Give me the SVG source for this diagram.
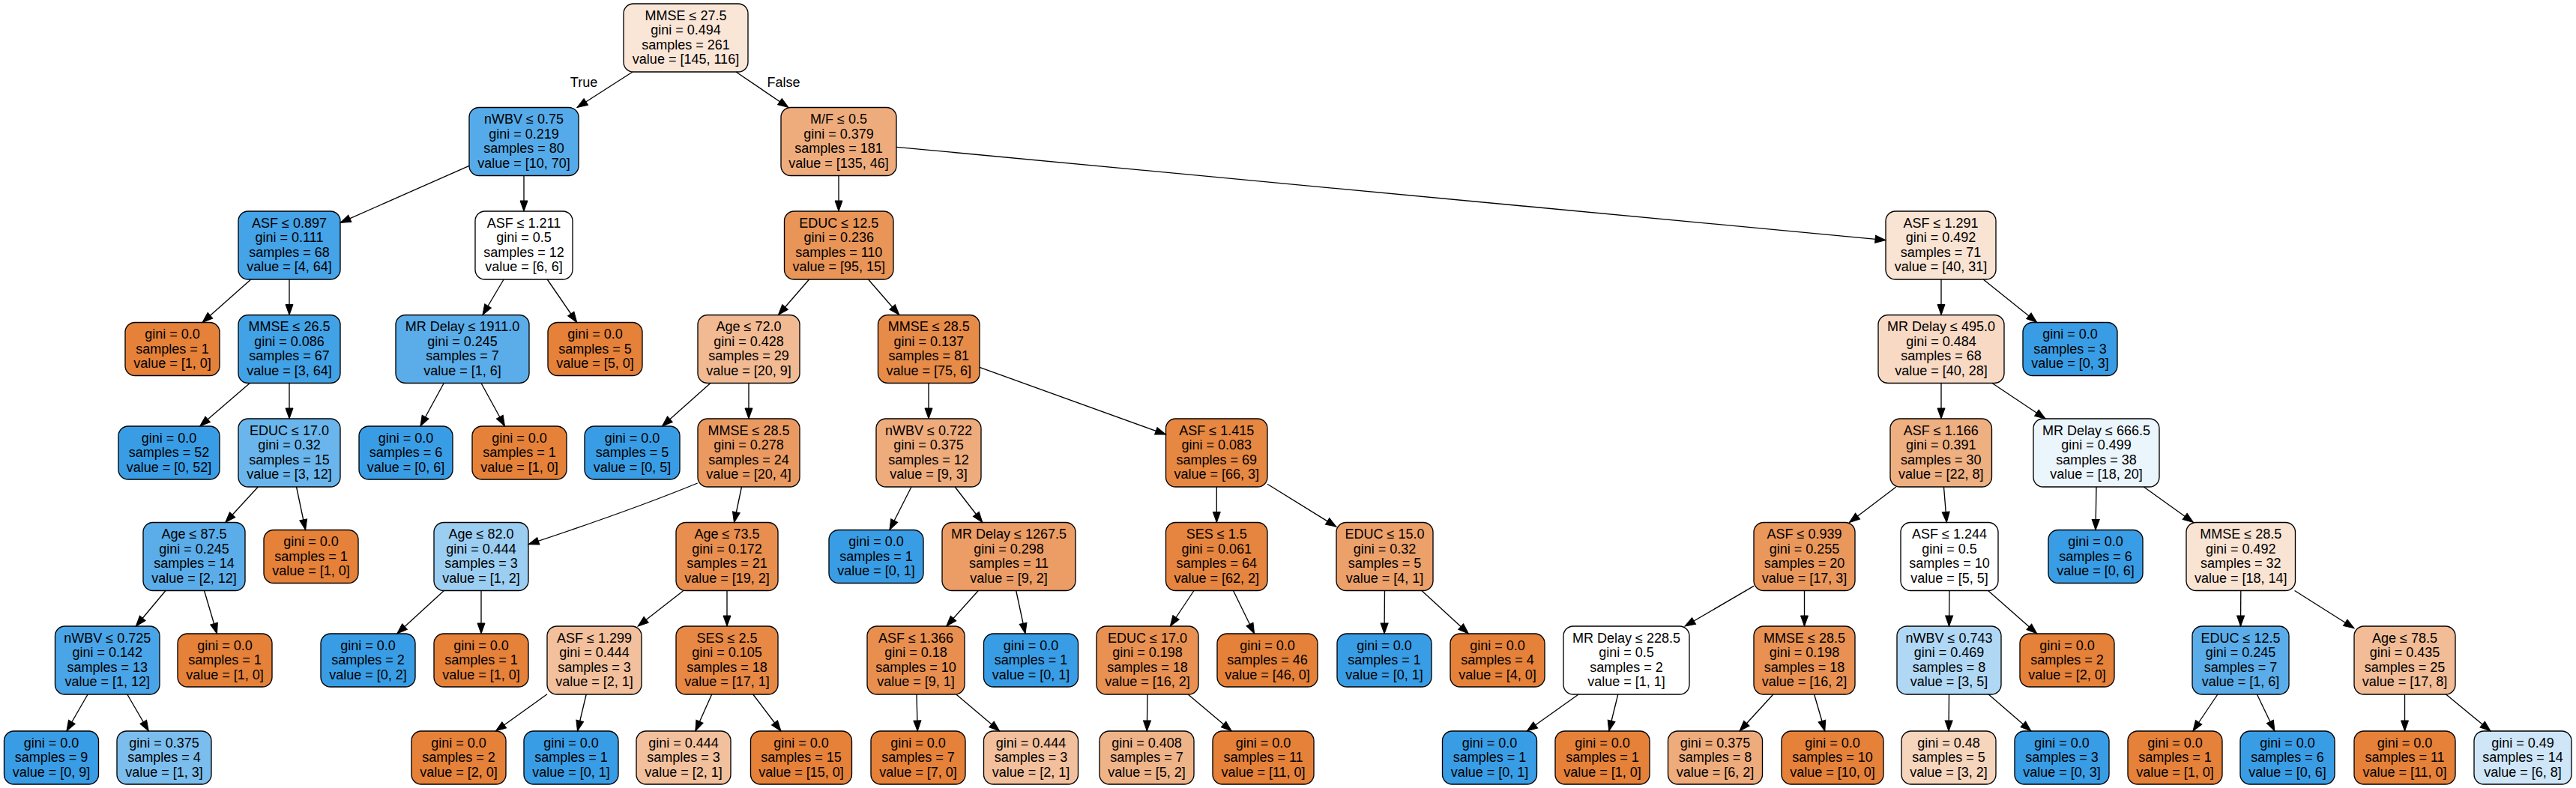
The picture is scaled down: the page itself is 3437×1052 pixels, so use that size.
<svg xmlns="http://www.w3.org/2000/svg" width="3437" height="1052" viewBox="0 0 3437 1052">
<style>
text{font-family:"Liberation Sans",Arial,Helvetica,sans-serif;font-size:18px;text-anchor:middle;fill:#000}
.nd rect{stroke:#000;stroke-width:1.33}
.i rect{height:91px}
.l rect{height:71px}
.o rect{fill:#e58139}
.b rect{fill:#399de5}
#edges line,#edges path{stroke:#000;stroke-width:1.33;fill:none;marker-end:url(#arr)}
</style>
<defs>
<marker id="arr" markerUnits="userSpaceOnUse" markerWidth="16" markerHeight="12" refX="14" refY="5" orient="auto" overflow="visible"><path d="M0,0L14,5L0,10z" fill="#000" stroke="#000" stroke-width="1"/></marker>
</defs>
<rect width="3437" height="1052" fill="#fff"/>
<g id="nodes">
<g id="n0" class="nd i"><rect x="832" y="5" width="166" height="91" rx="13" fill="#fae6d7"/><text x="915" y="26.75"><tspan x="915">MMSE ≤ 27.5</tspan><tspan x="915" dy="19.5">gini = 0.494</tspan><tspan x="915" dy="19.5">samples = 261</tspan><tspan x="915" dy="19.5">value = [145, 116]</tspan></text></g>
<g id="n1" class="nd i"><rect x="626" y="143.5" width="146" height="91" rx="13" fill="#55abe9"/><text x="699" y="165.25"><tspan x="699">nWBV ≤ 0.75</tspan><tspan x="699" dy="19.5">gini = 0.219</tspan><tspan x="699" dy="19.5">samples = 80</tspan><tspan x="699" dy="19.5">value = [10, 70]</tspan></text></g>
<g id="n2" class="nd i"><rect x="1042" y="143.5" width="154" height="91" rx="13" fill="#eeac7c"/><text x="1119" y="165.25"><tspan x="1119">M/F ≤ 0.5</tspan><tspan x="1119" dy="19.5">gini = 0.379</tspan><tspan x="1119" dy="19.5">samples = 181</tspan><tspan x="1119" dy="19.5">value = [135, 46]</tspan></text></g>
<g id="n3" class="nd i"><rect x="318" y="282" width="136" height="91" rx="13" fill="#45a3e7"/><text x="386" y="303.75"><tspan x="386">ASF ≤ 0.897</tspan><tspan x="386" dy="19.5">gini = 0.111</tspan><tspan x="386" dy="19.5">samples = 68</tspan><tspan x="386" dy="19.5">value = [4, 64]</tspan></text></g>
<g id="n4" class="nd i"><rect x="634" y="282" width="130" height="91" rx="13" fill="#ffffff"/><text x="699" y="303.75"><tspan x="699">ASF ≤ 1.211</tspan><tspan x="699" dy="19.5">gini = 0.5</tspan><tspan x="699" dy="19.5">samples = 12</tspan><tspan x="699" dy="19.5">value = [6, 6]</tspan></text></g>
<g id="n5" class="nd i"><rect x="1046.5" y="282" width="145.5" height="91" rx="13" fill="#e99558"/><text x="1119.25" y="303.75"><tspan x="1119.25">EDUC ≤ 12.5</tspan><tspan x="1119.25" dy="19.5">gini = 0.236</tspan><tspan x="1119.25" dy="19.5">samples = 110</tspan><tspan x="1119.25" dy="19.5">value = [95, 15]</tspan></text></g>
<g id="n6" class="nd i"><rect x="2516" y="282" width="147" height="91" rx="13" fill="#f9e3d2"/><text x="2589.5" y="303.75"><tspan x="2589.5">ASF ≤ 1.291</tspan><tspan x="2589.5" dy="19.5">gini = 0.492</tspan><tspan x="2589.5" dy="19.5">samples = 71</tspan><tspan x="2589.5" dy="19.5">value = [40, 31]</tspan></text></g>
<g id="n7" class="nd l o"><rect x="167" y="430.5" width="126" height="71" rx="13"/><text x="230" y="452"><tspan x="230">gini = 0.0</tspan><tspan x="230" dy="19.5">samples = 1</tspan><tspan x="230" dy="19.5">value = [1, 0]</tspan></text></g>
<g id="n8" class="nd i"><rect x="318" y="420.5" width="136" height="91" rx="13" fill="#42a2e6"/><text x="386" y="442.25"><tspan x="386">MMSE ≤ 26.5</tspan><tspan x="386" dy="19.5">gini = 0.086</tspan><tspan x="386" dy="19.5">samples = 67</tspan><tspan x="386" dy="19.5">value = [3, 64]</tspan></text></g>
<g id="n9" class="nd i"><rect x="528" y="420.5" width="178" height="91" rx="13" fill="#5aade9"/><text x="617" y="442.25"><tspan x="617">MR Delay ≤ 1911.0</tspan><tspan x="617" dy="19.5">gini = 0.245</tspan><tspan x="617" dy="19.5">samples = 7</tspan><tspan x="617" dy="19.5">value = [1, 6]</tspan></text></g>
<g id="n10" class="nd l o"><rect x="731" y="430.5" width="126" height="71" rx="13"/><text x="794" y="452"><tspan x="794">gini = 0.0</tspan><tspan x="794" dy="19.5">samples = 5</tspan><tspan x="794" dy="19.5">value = [5, 0]</tspan></text></g>
<g id="n11" class="nd i"><rect x="931" y="420.5" width="136" height="91" rx="13" fill="#f1ba92"/><text x="999" y="442.25"><tspan x="999">Age ≤ 72.0</tspan><tspan x="999" dy="19.5">gini = 0.428</tspan><tspan x="999" dy="19.5">samples = 29</tspan><tspan x="999" dy="19.5">value = [20, 9]</tspan></text></g>
<g id="n12" class="nd i"><rect x="1171.5" y="420.5" width="135.5" height="91" rx="13" fill="#e78b49"/><text x="1239.25" y="442.25"><tspan x="1239.25">MMSE ≤ 28.5</tspan><tspan x="1239.25" dy="19.5">gini = 0.137</tspan><tspan x="1239.25" dy="19.5">samples = 81</tspan><tspan x="1239.25" dy="19.5">value = [75, 6]</tspan></text></g>
<g id="n13" class="nd i"><rect x="2506" y="420.5" width="168" height="91" rx="13" fill="#f7d9c4"/><text x="2590" y="442.25"><tspan x="2590">MR Delay ≤ 495.0</tspan><tspan x="2590" dy="19.5">gini = 0.484</tspan><tspan x="2590" dy="19.5">samples = 68</tspan><tspan x="2590" dy="19.5">value = [40, 28]</tspan></text></g>
<g id="n14" class="nd l b"><rect x="2699" y="430.5" width="126" height="71" rx="13"/><text x="2762" y="452"><tspan x="2762">gini = 0.0</tspan><tspan x="2762" dy="19.5">samples = 3</tspan><tspan x="2762" dy="19.5">value = [0, 3]</tspan></text></g>
<g id="n15" class="nd l b"><rect x="158" y="569" width="135" height="71" rx="13"/><text x="225.5" y="590.5"><tspan x="225.5">gini = 0.0</tspan><tspan x="225.5" dy="19.5">samples = 52</tspan><tspan x="225.5" dy="19.5">value = [0, 52]</tspan></text></g>
<g id="n16" class="nd i"><rect x="318" y="559" width="136" height="91" rx="13" fill="#6ab6ec"/><text x="386" y="580.75"><tspan x="386">EDUC ≤ 17.0</tspan><tspan x="386" dy="19.5">gini = 0.32</tspan><tspan x="386" dy="19.5">samples = 15</tspan><tspan x="386" dy="19.5">value = [3, 12]</tspan></text></g>
<g id="n17" class="nd l b"><rect x="479" y="569" width="125" height="71" rx="13"/><text x="541.5" y="590.5"><tspan x="541.5">gini = 0.0</tspan><tspan x="541.5" dy="19.5">samples = 6</tspan><tspan x="541.5" dy="19.5">value = [0, 6]</tspan></text></g>
<g id="n18" class="nd l o"><rect x="630" y="569" width="126" height="71" rx="13"/><text x="693" y="590.5"><tspan x="693">gini = 0.0</tspan><tspan x="693" dy="19.5">samples = 1</tspan><tspan x="693" dy="19.5">value = [1, 0]</tspan></text></g>
<g id="n19" class="nd l b"><rect x="780" y="569" width="127" height="71" rx="13"/><text x="843.5" y="590.5"><tspan x="843.5">gini = 0.0</tspan><tspan x="843.5" dy="19.5">samples = 5</tspan><tspan x="843.5" dy="19.5">value = [0, 5]</tspan></text></g>
<g id="n20" class="nd i"><rect x="931" y="559" width="136" height="91" rx="13" fill="#ea9a61"/><text x="999" y="580.75"><tspan x="999">MMSE ≤ 28.5</tspan><tspan x="999" dy="19.5">gini = 0.278</tspan><tspan x="999" dy="19.5">samples = 24</tspan><tspan x="999" dy="19.5">value = [20, 4]</tspan></text></g>
<g id="n21" class="nd i"><rect x="1169" y="559" width="140" height="91" rx="13" fill="#eeab7b"/><text x="1239" y="580.75"><tspan x="1239">nWBV ≤ 0.722</tspan><tspan x="1239" dy="19.5">gini = 0.375</tspan><tspan x="1239" dy="19.5">samples = 12</tspan><tspan x="1239" dy="19.5">value = [9, 3]</tspan></text></g>
<g id="n22" class="nd i"><rect x="1555.5" y="559" width="135.5" height="91" rx="13" fill="#e68742"/><text x="1623.25" y="580.75"><tspan x="1623.25">ASF ≤ 1.415</tspan><tspan x="1623.25" dy="19.5">gini = 0.083</tspan><tspan x="1623.25" dy="19.5">samples = 69</tspan><tspan x="1623.25" dy="19.5">value = [66, 3]</tspan></text></g>
<g id="n23" class="nd i"><rect x="2522" y="559" width="135.5" height="91" rx="13" fill="#eeaf81"/><text x="2589.75" y="580.75"><tspan x="2589.75">ASF ≤ 1.166</tspan><tspan x="2589.75" dy="19.5">gini = 0.391</tspan><tspan x="2589.75" dy="19.5">samples = 30</tspan><tspan x="2589.75" dy="19.5">value = [22, 8]</tspan></text></g>
<g id="n24" class="nd i"><rect x="2713" y="559" width="168" height="91" rx="13" fill="#ebf5fc"/><text x="2797" y="580.75"><tspan x="2797">MR Delay ≤ 666.5</tspan><tspan x="2797" dy="19.5">gini = 0.499</tspan><tspan x="2797" dy="19.5">samples = 38</tspan><tspan x="2797" dy="19.5">value = [18, 20]</tspan></text></g>
<g id="n25" class="nd i"><rect x="191" y="697.5" width="136" height="91" rx="13" fill="#5aade9"/><text x="259" y="719.25"><tspan x="259">Age ≤ 87.5</tspan><tspan x="259" dy="19.5">gini = 0.245</tspan><tspan x="259" dy="19.5">samples = 14</tspan><tspan x="259" dy="19.5">value = [2, 12]</tspan></text></g>
<g id="n26" class="nd l o"><rect x="352" y="707.5" width="126" height="71" rx="13"/><text x="415" y="729"><tspan x="415">gini = 0.0</tspan><tspan x="415" dy="19.5">samples = 1</tspan><tspan x="415" dy="19.5">value = [1, 0]</tspan></text></g>
<g id="n27" class="nd i"><rect x="579" y="697.5" width="126" height="91" rx="13" fill="#9ccef2"/><text x="642" y="719.25"><tspan x="642">Age ≤ 82.0</tspan><tspan x="642" dy="19.5">gini = 0.444</tspan><tspan x="642" dy="19.5">samples = 3</tspan><tspan x="642" dy="19.5">value = [1, 2]</tspan></text></g>
<g id="n28" class="nd i"><rect x="902" y="697.5" width="136" height="91" rx="13" fill="#e88e4e"/><text x="970" y="719.25"><tspan x="970">Age ≤ 73.5</tspan><tspan x="970" dy="19.5">gini = 0.172</tspan><tspan x="970" dy="19.5">samples = 21</tspan><tspan x="970" dy="19.5">value = [19, 2]</tspan></text></g>
<g id="n29" class="nd l b"><rect x="1106" y="707.5" width="126" height="71" rx="13"/><text x="1169" y="729"><tspan x="1169">gini = 0.0</tspan><tspan x="1169" dy="19.5">samples = 1</tspan><tspan x="1169" dy="19.5">value = [0, 1]</tspan></text></g>
<g id="n30" class="nd i"><rect x="1257" y="697.5" width="178" height="91" rx="13" fill="#eb9d65"/><text x="1346" y="719.25"><tspan x="1346">MR Delay ≤ 1267.5</tspan><tspan x="1346" dy="19.5">gini = 0.298</tspan><tspan x="1346" dy="19.5">samples = 11</tspan><tspan x="1346" dy="19.5">value = [9, 2]</tspan></text></g>
<g id="n31" class="nd i"><rect x="1555.5" y="697.5" width="135.5" height="91" rx="13" fill="#e6853f"/><text x="1623.25" y="719.25"><tspan x="1623.25">SES ≤ 1.5</tspan><tspan x="1623.25" dy="19.5">gini = 0.061</tspan><tspan x="1623.25" dy="19.5">samples = 64</tspan><tspan x="1623.25" dy="19.5">value = [62, 2]</tspan></text></g>
<g id="n32" class="nd i"><rect x="1783" y="697.5" width="129" height="91" rx="13" fill="#eca06a"/><text x="1847.5" y="719.25"><tspan x="1847.5">EDUC ≤ 15.0</tspan><tspan x="1847.5" dy="19.5">gini = 0.32</tspan><tspan x="1847.5" dy="19.5">samples = 5</tspan><tspan x="1847.5" dy="19.5">value = [4, 1]</tspan></text></g>
<g id="n33" class="nd i"><rect x="2340" y="697.5" width="135" height="91" rx="13" fill="#ea975c"/><text x="2407.5" y="719.25"><tspan x="2407.5">ASF ≤ 0.939</tspan><tspan x="2407.5" dy="19.5">gini = 0.255</tspan><tspan x="2407.5" dy="19.5">samples = 20</tspan><tspan x="2407.5" dy="19.5">value = [17, 3]</tspan></text></g>
<g id="n34" class="nd i"><rect x="2536" y="697.5" width="130" height="91" rx="13" fill="#ffffff"/><text x="2601" y="719.25"><tspan x="2601">ASF ≤ 1.244</tspan><tspan x="2601" dy="19.5">gini = 0.5</tspan><tspan x="2601" dy="19.5">samples = 10</tspan><tspan x="2601" dy="19.5">value = [5, 5]</tspan></text></g>
<g id="n35" class="nd l b"><rect x="2733" y="707.5" width="126" height="71" rx="13"/><text x="2796" y="729"><tspan x="2796">gini = 0.0</tspan><tspan x="2796" dy="19.5">samples = 6</tspan><tspan x="2796" dy="19.5">value = [0, 6]</tspan></text></g>
<g id="n36" class="nd i"><rect x="2917" y="697.5" width="145.5" height="91" rx="13" fill="#f9e3d3"/><text x="2989.75" y="719.25"><tspan x="2989.75">MMSE ≤ 28.5</tspan><tspan x="2989.75" dy="19.5">gini = 0.492</tspan><tspan x="2989.75" dy="19.5">samples = 32</tspan><tspan x="2989.75" dy="19.5">value = [18, 14]</tspan></text></g>
<g id="n37" class="nd i"><rect x="73.5" y="836" width="139.5" height="91" rx="13" fill="#49a5e7"/><text x="143.25" y="857.75"><tspan x="143.25">nWBV ≤ 0.725</tspan><tspan x="143.25" dy="19.5">gini = 0.142</tspan><tspan x="143.25" dy="19.5">samples = 13</tspan><tspan x="143.25" dy="19.5">value = [1, 12]</tspan></text></g>
<g id="n38" class="nd l o"><rect x="237" y="846" width="126" height="71" rx="13"/><text x="300" y="867.5"><tspan x="300">gini = 0.0</tspan><tspan x="300" dy="19.5">samples = 1</tspan><tspan x="300" dy="19.5">value = [1, 0]</tspan></text></g>
<g id="n39" class="nd l b"><rect x="428" y="846" width="126" height="71" rx="13"/><text x="491" y="867.5"><tspan x="491">gini = 0.0</tspan><tspan x="491" dy="19.5">samples = 2</tspan><tspan x="491" dy="19.5">value = [0, 2]</tspan></text></g>
<g id="n40" class="nd l o"><rect x="579" y="846" width="126" height="71" rx="13"/><text x="642" y="867.5"><tspan x="642">gini = 0.0</tspan><tspan x="642" dy="19.5">samples = 1</tspan><tspan x="642" dy="19.5">value = [1, 0]</tspan></text></g>
<g id="n41" class="nd i"><rect x="730" y="836" width="126" height="91" rx="13" fill="#f2c09c"/><text x="793" y="857.75"><tspan x="793">ASF ≤ 1.299</tspan><tspan x="793" dy="19.5">gini = 0.444</tspan><tspan x="793" dy="19.5">samples = 3</tspan><tspan x="793" dy="19.5">value = [2, 1]</tspan></text></g>
<g id="n42" class="nd i"><rect x="902" y="836" width="136" height="91" rx="13" fill="#e78845"/><text x="970" y="857.75"><tspan x="970">SES ≤ 2.5</tspan><tspan x="970" dy="19.5">gini = 0.105</tspan><tspan x="970" dy="19.5">samples = 18</tspan><tspan x="970" dy="19.5">value = [17, 1]</tspan></text></g>
<g id="n43" class="nd i"><rect x="1157" y="836" width="130" height="91" rx="13" fill="#e88f4f"/><text x="1222" y="857.75"><tspan x="1222">ASF ≤ 1.366</tspan><tspan x="1222" dy="19.5">gini = 0.18</tspan><tspan x="1222" dy="19.5">samples = 10</tspan><tspan x="1222" dy="19.5">value = [9, 1]</tspan></text></g>
<g id="n44" class="nd l b"><rect x="1312.5" y="846" width="126" height="71" rx="13"/><text x="1375.5" y="867.5"><tspan x="1375.5">gini = 0.0</tspan><tspan x="1375.5" dy="19.5">samples = 1</tspan><tspan x="1375.5" dy="19.5">value = [0, 1]</tspan></text></g>
<g id="n45" class="nd i"><rect x="1463" y="836" width="136" height="91" rx="13" fill="#e89152"/><text x="1531" y="857.75"><tspan x="1531">EDUC ≤ 17.0</tspan><tspan x="1531" dy="19.5">gini = 0.198</tspan><tspan x="1531" dy="19.5">samples = 18</tspan><tspan x="1531" dy="19.5">value = [16, 2]</tspan></text></g>
<g id="n46" class="nd l o"><rect x="1624" y="846" width="134" height="71" rx="13"/><text x="1691" y="867.5"><tspan x="1691">gini = 0.0</tspan><tspan x="1691" dy="19.5">samples = 46</tspan><tspan x="1691" dy="19.5">value = [46, 0]</tspan></text></g>
<g id="n47" class="nd l b"><rect x="1784" y="846" width="126" height="71" rx="13"/><text x="1847" y="867.5"><tspan x="1847">gini = 0.0</tspan><tspan x="1847" dy="19.5">samples = 1</tspan><tspan x="1847" dy="19.5">value = [0, 1]</tspan></text></g>
<g id="n48" class="nd l o"><rect x="1935" y="846" width="126" height="71" rx="13"/><text x="1998" y="867.5"><tspan x="1998">gini = 0.0</tspan><tspan x="1998" dy="19.5">samples = 4</tspan><tspan x="1998" dy="19.5">value = [4, 0]</tspan></text></g>
<g id="n49" class="nd i"><rect x="2086" y="836" width="168" height="91" rx="13" fill="#ffffff"/><text x="2170" y="857.75"><tspan x="2170">MR Delay ≤ 228.5</tspan><tspan x="2170" dy="19.5">gini = 0.5</tspan><tspan x="2170" dy="19.5">samples = 2</tspan><tspan x="2170" dy="19.5">value = [1, 1]</tspan></text></g>
<g id="n50" class="nd i"><rect x="2340" y="836" width="135" height="91" rx="13" fill="#e89152"/><text x="2407.5" y="857.75"><tspan x="2407.5">MMSE ≤ 28.5</tspan><tspan x="2407.5" dy="19.5">gini = 0.198</tspan><tspan x="2407.5" dy="19.5">samples = 18</tspan><tspan x="2407.5" dy="19.5">value = [16, 2]</tspan></text></g>
<g id="n51" class="nd i"><rect x="2531" y="836" width="139" height="91" rx="13" fill="#b0d8f5"/><text x="2600.5" y="857.75"><tspan x="2600.5">nWBV ≤ 0.743</tspan><tspan x="2600.5" dy="19.5">gini = 0.469</tspan><tspan x="2600.5" dy="19.5">samples = 8</tspan><tspan x="2600.5" dy="19.5">value = [3, 5]</tspan></text></g>
<g id="n52" class="nd l o"><rect x="2695" y="846" width="126" height="71" rx="13"/><text x="2758" y="867.5"><tspan x="2758">gini = 0.0</tspan><tspan x="2758" dy="19.5">samples = 2</tspan><tspan x="2758" dy="19.5">value = [2, 0]</tspan></text></g>
<g id="n53" class="nd i"><rect x="2925" y="836" width="129" height="91" rx="13" fill="#5aade9"/><text x="2989.5" y="857.75"><tspan x="2989.5">EDUC ≤ 12.5</tspan><tspan x="2989.5" dy="19.5">gini = 0.245</tspan><tspan x="2989.5" dy="19.5">samples = 7</tspan><tspan x="2989.5" dy="19.5">value = [1, 6]</tspan></text></g>
<g id="n54" class="nd i"><rect x="3141" y="836" width="135" height="91" rx="13" fill="#f1bc96"/><text x="3208.5" y="857.75"><tspan x="3208.5">Age ≤ 78.5</tspan><tspan x="3208.5" dy="19.5">gini = 0.435</tspan><tspan x="3208.5" dy="19.5">samples = 25</tspan><tspan x="3208.5" dy="19.5">value = [17, 8]</tspan></text></g>
<g id="n55" class="nd l b"><rect x="5.5" y="976" width="126" height="71" rx="13"/><text x="68.5" y="997.5"><tspan x="68.5">gini = 0.0</tspan><tspan x="68.5" dy="19.5">samples = 9</tspan><tspan x="68.5" dy="19.5">value = [0, 9]</tspan></text></g>
<g id="n56" class="nd l"><rect x="156" y="976" width="126" height="71" rx="13" fill="#7bbeee"/><text x="219" y="997.5"><tspan x="219">gini = 0.375</tspan><tspan x="219" dy="19.5">samples = 4</tspan><tspan x="219" dy="19.5">value = [1, 3]</tspan></text></g>
<g id="n57" class="nd l o"><rect x="549" y="976" width="126" height="71" rx="13"/><text x="612" y="997.5"><tspan x="612">gini = 0.0</tspan><tspan x="612" dy="19.5">samples = 2</tspan><tspan x="612" dy="19.5">value = [2, 0]</tspan></text></g>
<g id="n58" class="nd l b"><rect x="699" y="976" width="126" height="71" rx="13"/><text x="762" y="997.5"><tspan x="762">gini = 0.0</tspan><tspan x="762" dy="19.5">samples = 1</tspan><tspan x="762" dy="19.5">value = [0, 1]</tspan></text></g>
<g id="n59" class="nd l"><rect x="849" y="976" width="126" height="71" rx="13" fill="#f2c09c"/><text x="912" y="997.5"><tspan x="912">gini = 0.444</tspan><tspan x="912" dy="19.5">samples = 3</tspan><tspan x="912" dy="19.5">value = [2, 1]</tspan></text></g>
<g id="n60" class="nd l o"><rect x="1001.5" y="976" width="135" height="71" rx="13"/><text x="1069" y="997.5"><tspan x="1069">gini = 0.0</tspan><tspan x="1069" dy="19.5">samples = 15</tspan><tspan x="1069" dy="19.5">value = [15, 0]</tspan></text></g>
<g id="n61" class="nd l o"><rect x="1162" y="976" width="126" height="71" rx="13"/><text x="1225" y="997.5"><tspan x="1225">gini = 0.0</tspan><tspan x="1225" dy="19.5">samples = 7</tspan><tspan x="1225" dy="19.5">value = [7, 0]</tspan></text></g>
<g id="n62" class="nd l"><rect x="1312.5" y="976" width="126" height="71" rx="13" fill="#f2c09c"/><text x="1375.5" y="997.5"><tspan x="1375.5">gini = 0.444</tspan><tspan x="1375.5" dy="19.5">samples = 3</tspan><tspan x="1375.5" dy="19.5">value = [2, 1]</tspan></text></g>
<g id="n63" class="nd l"><rect x="1467" y="976" width="126" height="71" rx="13" fill="#efb388"/><text x="1530" y="997.5"><tspan x="1530">gini = 0.408</tspan><tspan x="1530" dy="19.5">samples = 7</tspan><tspan x="1530" dy="19.5">value = [5, 2]</tspan></text></g>
<g id="n64" class="nd l o"><rect x="1618" y="976" width="135" height="71" rx="13"/><text x="1685.5" y="997.5"><tspan x="1685.5">gini = 0.0</tspan><tspan x="1685.5" dy="19.5">samples = 11</tspan><tspan x="1685.5" dy="19.5">value = [11, 0]</tspan></text></g>
<g id="n65" class="nd l b"><rect x="1924.5" y="976" width="126" height="71" rx="13"/><text x="1987.5" y="997.5"><tspan x="1987.5">gini = 0.0</tspan><tspan x="1987.5" dy="19.5">samples = 1</tspan><tspan x="1987.5" dy="19.5">value = [0, 1]</tspan></text></g>
<g id="n66" class="nd l o"><rect x="2075" y="976" width="126" height="71" rx="13"/><text x="2138" y="997.5"><tspan x="2138">gini = 0.0</tspan><tspan x="2138" dy="19.5">samples = 1</tspan><tspan x="2138" dy="19.5">value = [1, 0]</tspan></text></g>
<g id="n67" class="nd l"><rect x="2225.5" y="976" width="126" height="71" rx="13" fill="#eeab7b"/><text x="2288.5" y="997.5"><tspan x="2288.5">gini = 0.375</tspan><tspan x="2288.5" dy="19.5">samples = 8</tspan><tspan x="2288.5" dy="19.5">value = [6, 2]</tspan></text></g>
<g id="n68" class="nd l o"><rect x="2377" y="976" width="136" height="71" rx="13"/><text x="2445" y="997.5"><tspan x="2445">gini = 0.0</tspan><tspan x="2445" dy="19.5">samples = 10</tspan><tspan x="2445" dy="19.5">value = [10, 0]</tspan></text></g>
<g id="n69" class="nd l"><rect x="2537" y="976" width="126" height="71" rx="13" fill="#f6d5bd"/><text x="2600" y="997.5"><tspan x="2600">gini = 0.48</tspan><tspan x="2600" dy="19.5">samples = 5</tspan><tspan x="2600" dy="19.5">value = [3, 2]</tspan></text></g>
<g id="n70" class="nd l b"><rect x="2688" y="976" width="126" height="71" rx="13"/><text x="2751" y="997.5"><tspan x="2751">gini = 0.0</tspan><tspan x="2751" dy="19.5">samples = 3</tspan><tspan x="2751" dy="19.5">value = [0, 3]</tspan></text></g>
<g id="n71" class="nd l o"><rect x="2839" y="976" width="126" height="71" rx="13"/><text x="2902" y="997.5"><tspan x="2902">gini = 0.0</tspan><tspan x="2902" dy="19.5">samples = 1</tspan><tspan x="2902" dy="19.5">value = [1, 0]</tspan></text></g>
<g id="n72" class="nd l b"><rect x="2989" y="976" width="126" height="71" rx="13"/><text x="3052" y="997.5"><tspan x="3052">gini = 0.0</tspan><tspan x="3052" dy="19.5">samples = 6</tspan><tspan x="3052" dy="19.5">value = [0, 6]</tspan></text></g>
<g id="n73" class="nd l o"><rect x="3141" y="976" width="135" height="71" rx="13"/><text x="3208.5" y="997.5"><tspan x="3208.5">gini = 0.0</tspan><tspan x="3208.5" dy="19.5">samples = 11</tspan><tspan x="3208.5" dy="19.5">value = [11, 0]</tspan></text></g>
<g id="n74" class="nd l"><rect x="3301" y="976" width="130" height="71" rx="13" fill="#cee6f8"/><text x="3366" y="997.5"><tspan x="3366">gini = 0.49</tspan><tspan x="3366" dy="19.5">samples = 14</tspan><tspan x="3366" dy="19.5">value = [6, 8]</tspan></text></g>
</g>
<g id="edges">
<line x1="844" y1="96" x2="770" y2="143.5"/>
<line x1="982" y1="96" x2="1052" y2="143.5"/>
<line x1="626" y1="221.3" x2="454" y2="297.4"/>
<line x1="699" y1="234.5" x2="699" y2="282"/>
<line x1="1119" y1="234.5" x2="1119" y2="282"/>
<line x1="1196" y1="196.3" x2="2516" y2="320.6"/>
<line x1="334.8" y1="373" x2="270" y2="430.5"/>
<line x1="386" y1="373" x2="386" y2="420.5"/>
<line x1="672.1" y1="373" x2="643.9" y2="420.5"/>
<line x1="730.2" y1="373" x2="769.7" y2="430.5"/>
<line x1="1079.6" y1="373" x2="1038.4" y2="420.5"/>
<line x1="1158.5" y1="373" x2="1199.8" y2="420.5"/>
<line x1="2590" y1="373" x2="2590" y2="420.5"/>
<line x1="2646.2" y1="373" x2="2717.8" y2="430.5"/>
<line x1="333.3" y1="511.5" x2="266.6" y2="569"/>
<line x1="386" y1="511.5" x2="386" y2="559"/>
<line x1="592.2" y1="511.5" x2="560.9" y2="569"/>
<line x1="642" y1="511.5" x2="673.5" y2="569"/>
<line x1="947.9" y1="511.5" x2="883.4" y2="569"/>
<line x1="999" y1="511.5" x2="999" y2="559"/>
<line x1="1239" y1="511.5" x2="1239" y2="559"/>
<line x1="1307" y1="490.4" x2="1555.5" y2="580.1"/>
<line x1="2590" y1="511.5" x2="2590" y2="559"/>
<line x1="2658" y1="511.5" x2="2729" y2="559"/>
<line x1="344.3" y1="650" x2="300.7" y2="697.5"/>
<line x1="395.5" y1="650" x2="407.6" y2="707.5"/>
<path d="M930.7,645C855.7,675.8 780,701.9 705,726.7"/>
<line x1="989.5" y1="650" x2="979.5" y2="697.5"/>
<line x1="1216" y1="650" x2="1186.9" y2="707.5"/>
<line x1="1274.1" y1="650" x2="1310.9" y2="697.5"/>
<line x1="1623.3" y1="650" x2="1623.3" y2="697.5"/>
<line x1="1691" y1="646.3" x2="1783" y2="703.2"/>
<line x1="2529.9" y1="650" x2="2467.4" y2="697.5"/>
<line x1="2593.5" y1="650" x2="2597.3" y2="697.5"/>
<line x1="2797" y1="650" x2="2796" y2="707.5"/>
<line x1="2860.3" y1="650" x2="2926.5" y2="697.5"/>
<line x1="221" y1="788.5" x2="181.3" y2="836"/>
<line x1="272.5" y1="788.5" x2="289.5" y2="846"/>
<line x1="592.4" y1="788.5" x2="529.7" y2="846"/>
<line x1="642" y1="788.5" x2="642" y2="846"/>
<line x1="911.9" y1="788.5" x2="851.1" y2="836"/>
<line x1="970" y1="788.5" x2="970" y2="836"/>
<line x1="1305.3" y1="788.5" x2="1262.7" y2="836"/>
<line x1="1355.7" y1="788.5" x2="1368" y2="846"/>
<line x1="1593" y1="788.5" x2="1561.3" y2="836"/>
<line x1="1645.5" y1="788.5" x2="1673.6" y2="846"/>
<line x1="1847.5" y1="788.5" x2="1847" y2="846"/>
<line x1="1896.9" y1="788.5" x2="1959.4" y2="846"/>
<line x1="2340" y1="782.4" x2="2248" y2="836"/>
<line x1="2407.5" y1="788.5" x2="2407.5" y2="836"/>
<line x1="2601" y1="788.5" x2="2600.5" y2="836"/>
<line x1="2652.6" y1="788.5" x2="2717.8" y2="846"/>
<line x1="2989.8" y1="788.5" x2="2989.5" y2="836"/>
<line x1="3061.6" y1="788.5" x2="3141" y2="838.8"/>
<line x1="117.1" y1="927" x2="88.9" y2="976"/>
<line x1="169.8" y1="927" x2="198.3" y2="976"/>
<line x1="730" y1="926.7" x2="661.4" y2="976"/>
<line x1="782.2" y1="927" x2="770.5" y2="976"/>
<line x1="949.7" y1="927" x2="927.8" y2="976"/>
<line x1="1004.7" y1="927" x2="1042" y2="976"/>
<line x1="1223" y1="927" x2="1224.2" y2="976"/>
<line x1="1275.8" y1="927" x2="1333.7" y2="976"/>
<line x1="1531" y1="927" x2="1530.3" y2="976"/>
<line x1="1585.1" y1="927" x2="1643.3" y2="976"/>
<line x1="2106.1" y1="927" x2="2037.3" y2="976"/>
<line x1="2158.8" y1="927" x2="2146.7" y2="976"/>
<line x1="2365.9" y1="927" x2="2321" y2="976"/>
<line x1="2420.6" y1="927" x2="2434.8" y2="976"/>
<line x1="2600.5" y1="927" x2="2600" y2="976"/>
<line x1="2653.2" y1="927" x2="2709.9" y2="976"/>
<line x1="2958.9" y1="927" x2="2925.9" y2="976"/>
<line x1="3011.4" y1="927" x2="3034.9" y2="976"/>
<line x1="3208.5" y1="927" x2="3208.5" y2="976"/>
<line x1="3263.6" y1="927" x2="3323" y2="976"/>
<text x="779" y="116">True</text>
<text x="1045.5" y="116">False</text>
</g>
</svg>
